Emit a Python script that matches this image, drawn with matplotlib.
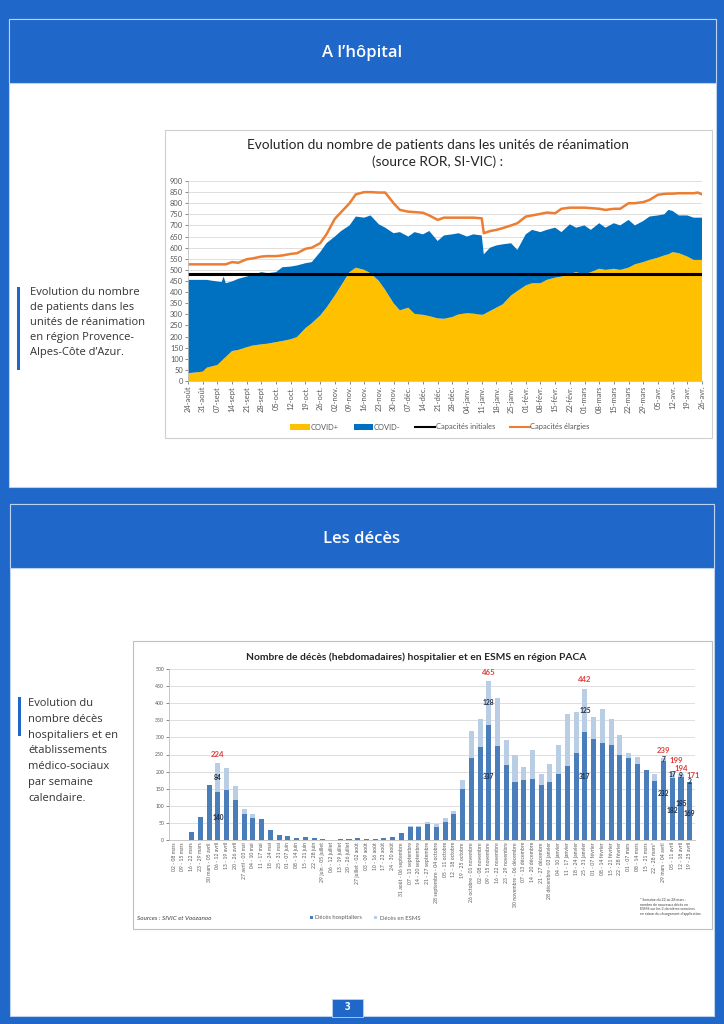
"""
Page 3 du bulletin PACA : réanimation (aires empilées) + décès hebdomadaires (barres empilées).
Sortie : out.png, 724x1024 px.
"""
import matplotlib

matplotlib.use("Agg")
import matplotlib.pyplot as plt  # noqa: E402
from matplotlib.lines import Line2D  # noqa: E402
from matplotlib.patches import Patch, Rectangle  # noqa: E402
import numpy as np  # noqa: E402

W, H = 724, 1024
BLUE = "#1F67C9"
EDGE = "#BCD3F0"
GRID = "#D9D9D9"
TICK = "#595959"
CHART_FONT = "Lato"
PAGE_FONT = "Open Sans"

# --- réanimation : jours depuis le 24 août 2020 ---
DAYS = [0, 3, 7, 9, 11, 14, 16, 17, 18, 21,
        24, 28, 31, 35, 38, 42, 45, 49, 52, 56,
        59, 63, 66, 70, 73, 77, 80, 84, 87, 91,
        94, 98, 101, 105, 108, 112, 115, 119, 122, 126,
        129, 133, 136, 140, 141, 144, 147, 150, 154, 157,
        161, 164, 168, 171, 175, 178, 182, 185, 189, 192,
        196, 199, 203, 206, 210, 213, 217, 220, 224, 227,
        229, 231, 234, 238, 241, 243, 245]
COVID_POS = [35, 38, 42, 60, 65, 72, 90, 100, 108, 135,
             140, 152, 160, 165, 168, 175, 180, 188, 198, 238,
             260, 295, 330, 385, 430, 490, 510, 500, 485, 450,
             410, 350, 318, 330, 302, 298, 292, 282, 280, 288,
             300, 305, 303, 298, 300, 315, 330, 345, 385, 405,
             430, 440, 440, 455, 465, 470, 482, 490, 480, 490,
             505, 500, 505, 500, 510, 525, 535, 545, 555, 565,
             570, 580, 575, 560, 545, 545, 545]
COVID_NEG = [420, 417, 413, 395, 387, 376, 355, 370, 332, 313,
             320, 318, 318, 325, 317, 315, 332, 327, 322, 292,
             275, 285, 290, 265, 245, 210, 230, 235, 260, 255,
             280, 315, 352, 320, 368, 362, 383, 348, 375, 372,
             365, 345, 357, 357, 270, 285, 280, 270, 235, 185,
             230, 240, 230, 225, 225, 200, 223, 200, 220, 190,
             205, 190, 205, 200, 215, 175, 185, 195, 190, 185,
             200, 185, 170, 185, 190, 190, 190]
CAPA_ELARGIES = [525, 525, 525, 525, 525, 525, 525, 525, 525, 535,
                 532, 548, 552, 560, 562, 562, 565, 572, 575, 595,
                 600, 620, 660, 730, 760, 800, 840, 850, 850, 848,
                 848, 800, 770, 762, 760, 757, 745, 725, 735, 735,
                 735, 735, 735, 732, 665, 675, 680, 688, 700, 710,
                 740, 745, 752, 758, 755, 775, 780, 780, 780, 778,
                 775, 770, 775, 775, 800, 800, 805, 815, 838, 842,
                 843, 843, 845, 845, 845, 848, 840]
CAPA_INITIALES = 480
REA_TICKS = ["24-août", "31-août", "07-sept", "14-sept", "21-sept", "28-sept",
             "05-oct.", "12-oct.", "19-oct.", "26-oct.", "02-nov.", "09-nov.",
             "16-nov.", "23-nov.", "30-nov.", "07-déc.", "14-déc.", "21-déc.",
             "28-déc.", "04-janv.", "11-janv.", "18-janv.", "25-janv.", "01-févr.",
             "08-févr.", "15-févr.", "22-févr.", "01-mars", "08-mars", "15-mars",
             "22-mars", "29-mars", "05-avr.", "12-avr.", "19-avr.", "26-avr."]

# --- décès hebdomadaires ---
WEEKS = ["02 - 08 mars", "09 - 15 mars", "16 - 22 mars", "23 - 29 mars",
         "30 mars - 05 avril", "06 - 12 avril", "13 - 19 avril", "20 - 26 avril",
         "27 avril - 03 mai", "04 - 10 mai", "11 - 17 mai", "18 - 24 mai",
         "25 - 31 mai", "01 - 07 juin", "08 - 14 juin", "15 - 21 juin",
         "22 - 28 juin", "29 juin - 05 juillet", "06 - 12 juillet", "13 - 19 juillet",
         "20 - 26 juillet", "27 juillet - 02 août", "03 - 09 août", "10 - 16 août",
         "17 - 23 août", "24 - 30 août", "31 août - 06 septembre", "07 - 13 septembre",
         "14 - 20 septembre", "21 - 27 septembre", "28 septembre - 04 octobre",
         "05 - 11 octobre", "12 - 18 octobre", "19 - 25 octobre",
         "26 octobre - 01 novembre", "02 - 08 novembre", "09 - 15 novembre",
         "16 - 22 novembre", "23 - 29 novembre", "30 novembre - 06 décembre",
         "07 - 13 décembre", "14 - 20 décembre", "21 - 27 décembre",
         "28 décembre - 03 janvier", "04 - 10 janvier", "11 - 17 janvier",
         "18 - 24 janvier", "25 - 31 janvier", "01 - 07 février", "08 - 14 février",
         "15 - 21 février", "22 - 28 février", "01 - 07 mars", "08 - 14 mars",
         "15 - 21 mars", "22 - 28 mars*", "29 mars - 04 avril", "05 - 11 avril",
         "12 - 18 avril", "19 - 25 avril"]
DECES_HOSP = [1, 1, 23, 67, 161, 140, 147, 117, 75, 64,
              60, 30, 16, 12, 7, 8, 5, 3, 1, 3,
              2, 5, 3, 3, 5, 9, 20, 37, 37, 46,
              39, 52, 76, 148, 240, 272, 337, 276, 218, 170,
              174, 179, 162, 170, 192, 215, 254, 317, 296, 284,
              279, 250, 240, 223, 205, 172, 232, 182, 185, 169]
DECES_ESMS = [0, 0, 0, 0, 0, 84, 63, 42, 16, 11,
              0, 0, 0, 0, 0, 0, 0, 0, 0, 0,
              0, 0, 0, 0, 0, 0, 0, 5, 4, 8,
              9, 11, 10, 26, 79, 83, 128, 138, 74, 78,
              38, 85, 32, 53, 87, 153, 121, 125, 64, 99,
              76, 56, 15, 20, 0, 22, 7, 17, 9, 2]
LABELLED = [5, 36, 47, 56, 57, 58, 59]  # semaines annotées


def rect(x0, y0, x1, y1):
    """pixels (origine en haut à gauche) -> fraction de figure"""
    return [x0 / W, 1 - y1 / H, (x1 - x0) / W, (y1 - y0) / H]


def box(fig, x0, y0, x1, y1, fc, ec="none", lw=0.0, z=0):
    fig.add_artist(Rectangle((x0 / W, 1 - y1 / H), (x1 - x0) / W, (y1 - y0) / H,
                             transform=fig.transFigure, fc=fc, ec=ec, lw=lw, zorder=z))


def ftext(fig, x, y, s, **kw):
    fig.text(x / W, 1 - y / H, s, **kw)


def page(fig):
    # panneau 1
    box(fig, 9, 19, 716, 487, "white", EDGE, 0.8)
    box(fig, 9, 19, 716, 83, BLUE, EDGE, 0.8)
    ftext(fig, 362, 53, "A l’hôpital", color="white", fontsize=12, fontweight="semibold",
          family=PAGE_FONT, ha="center", va="center")
    box(fig, 17, 287, 20, 370, BLUE)
    ftext(fig, 30, 287, "Evolution du nombre\nde patients dans les\nunités de réanimation\n"
          "en région Provence-\nAlpes-Côte d’Azur.", fontsize=8, family=PAGE_FONT,
          color="#333333", va="top", ha="left", linespacing=1.5)
    # panneau 2
    box(fig, 10, 504, 714, 1016, "white", EDGE, 0.8)
    box(fig, 10, 504, 714, 568, BLUE, EDGE, 0.8)
    ftext(fig, 362, 539, "Les décès", color="white", fontsize=12, fontweight="semibold",
          family=PAGE_FONT, ha="center", va="center")
    box(fig, 18, 697, 21, 736, BLUE)
    ftext(fig, 28, 698, "Evolution du\nnombre décès\nhospitaliers et en\nétablissements\n"
          "médico-sociaux\npar semaine\ncalendaire.", fontsize=8, family=PAGE_FONT,
          color="#333333", va="top", ha="left", linespacing=1.6)
    # numéro de page
    box(fig, 332, 999, 363, 1017, BLUE, EDGE, 0.6, z=3)
    ftext(fig, 347.5, 1008, "3", color="white", fontsize=7, fontweight="bold",
          family=PAGE_FONT, ha="center", va="center", zorder=4)


def style_axes(ax, fs):
    ax.set_facecolor("white")
    for s in ("top", "right"):
        ax.spines[s].set_visible(False)
    for s in ("left", "bottom"):
        ax.spines[s].set_color("#BFBFBF")
        ax.spines[s].set_linewidth(0.6)
    ax.grid(axis="y", color=GRID, lw=0.6)
    ax.set_axisbelow(True)
    ax.tick_params(labelsize=fs, colors=TICK, length=2, width=0.5, pad=1.5)
    for lab in ax.get_xticklabels() + ax.get_yticklabels():
        lab.set_family(CHART_FONT)


def plot_rea(fig):
    box(fig, 165, 130, 712, 438, "white", "#CFCFCF", 0.8, z=1)
    ftext(fig, 438, 145, "Evolution du nombre de patients dans les unités de réanimation",
          fontsize=9.8, family=CHART_FONT, color="#262626", ha="center", va="center", zorder=2)
    ftext(fig, 438, 162, "(source ROR, SI-VIC) :", fontsize=9.8, family=CHART_FONT,
          color="#262626", ha="center", va="center", zorder=2)

    ax = fig.add_axes(rect(188, 181, 702, 381))
    ax.set_zorder(2)
    ax.stackplot(DAYS, COVID_POS, COVID_NEG, colors=["#FFC000", "#0070C0"], lw=0)
    ax.axhline(CAPA_INITIALES, color="black", lw=2.2)
    ax.plot(DAYS, CAPA_ELARGIES, color="#ED7D31", lw=1.8)
    ax.set_xlim(0, DAYS[-1])
    ax.set_ylim(0, 900)
    ax.set_yticks(np.arange(0, 901, 50))
    ax.set_xticks(np.arange(len(REA_TICKS)) * 7)
    ax.set_xticklabels(REA_TICKS, rotation=90)
    style_axes(ax, 5.4)

    handles = [Patch(fc="#FFC000", ec="none"), Patch(fc="#0070C0", ec="none"),
               Line2D([], [], color="black", lw=1.5), Line2D([], [], color="#ED7D31", lw=1.5)]
    leg = fig.legend(handles, ["COVID+", "COVID-", "Capacités initiales", "Capacités élargies"],
                     loc="center", bbox_to_anchor=(440 / W, 1 - 427 / H), ncol=4, frameon=False,
                     prop={"family": CHART_FONT, "size": 5.4}, handlelength=2.6, handleheight=0.7,
                     columnspacing=2.0, handletextpad=0.1)
    leg.set_zorder(3)
    for t in leg.get_texts():
        t.set_color(TICK)


def plot_deces(fig):
    box(fig, 133, 641, 712, 929, "white", "#BFBFBF", 0.8, z=1)
    ftext(fig, 416, 657, "Nombre de décès (hebdomadaires) hospitalier et en ESMS en région PACA",
          fontsize=7.4, fontweight="bold", family=CHART_FONT, color="#262626",
          ha="center", va="center", zorder=2)

    ax = fig.add_axes(rect(169, 669, 695, 840))
    ax.set_zorder(2)
    x = np.arange(len(WEEKS))
    hosp = np.array(DECES_HOSP)
    esms = np.array(DECES_ESMS)
    ax.bar(x, hosp, 0.58, color="#4A7EBB")
    ax.bar(x, esms, 0.58, bottom=hosp, color="#B9CDE5")
    ax.set_xlim(-0.6, len(WEEKS) - 0.4)
    ax.set_ylim(0, 500)
    ax.set_yticks(np.arange(0, 501, 50))
    ax.set_xticks(x)
    ax.set_xticklabels(WEEKS, rotation=90)
    style_axes(ax, 3.7)
    ax.tick_params(axis="x", length=0)

    # placement des étiquettes (décalages verticaux façon Excel, en unités de données)
    hosp_y = {5: 67, 36: 186, 47: 186, 56: 135, 57: 87, 58: 107, 59: 78}
    total_dx = {56: 0.0, 57: 0.45, 58: 0.0, 59: 0.45}
    total_y = {56: 262, 57: 233, 58: 210, 59: 189}
    for i in LABELLED:
        ax.text(i, hosp_y.get(i, hosp[i] / 2), str(hosp[i]), ha="center", va="center",
                fontsize=4.8, family=CHART_FONT, fontweight="bold", color="#1F2D44")
        ax.text(i, hosp[i] + esms[i] / 2, str(esms[i]), ha="center", va="center", fontsize=4.8,
                family=CHART_FONT, fontweight="bold", color="#1F2D44")
        ax.text(i + total_dx.get(i, 0.0), total_y.get(i, hosp[i] + esms[i] + 26),
                str(hosp[i] + esms[i]), ha="center", va="center", fontsize=5.6,
                family=CHART_FONT, fontweight="bold", color="#E0403A")

    ftext(fig, 137, 918, "Sources : SIVIC et Voozanoo", fontsize=4.6, style="italic",
          family=CHART_FONT, color="#404040", va="center", zorder=2)
    leg = fig.legend([Patch(fc="#4A7EBB"), Patch(fc="#B9CDE5")],
                     ["Décès hospitaliers", "Décès en ESMS"], loc="center",
                     bbox_to_anchor=(365 / W, 1 - 918 / H), ncol=2, frameon=False,
                     prop={"family": CHART_FONT, "size": 4.2}, handlelength=0.6,
                     handleheight=0.6, handletextpad=0.4, columnspacing=2.0)
    leg.set_zorder(3)
    for t in leg.get_texts():
        t.set_color(TICK)
    ftext(fig, 640, 898, "* Semaine du 22 au 28 mars :\nnombre de nouveaux décès en\n"
          "ESMS sur les 2 dernières semaines\nen raison du changement d’application",
          fontsize=2.6, family=CHART_FONT, color="#404040", va="top", ha="left", zorder=2)


def main():
    fig = plt.figure(figsize=(W / 100, H / 100), dpi=100, facecolor=BLUE)
    page(fig)
    plot_rea(fig)
    plot_deces(fig)
    fig.savefig("out.png", dpi=100, facecolor=BLUE)


if __name__ == "__main__":
    main()
